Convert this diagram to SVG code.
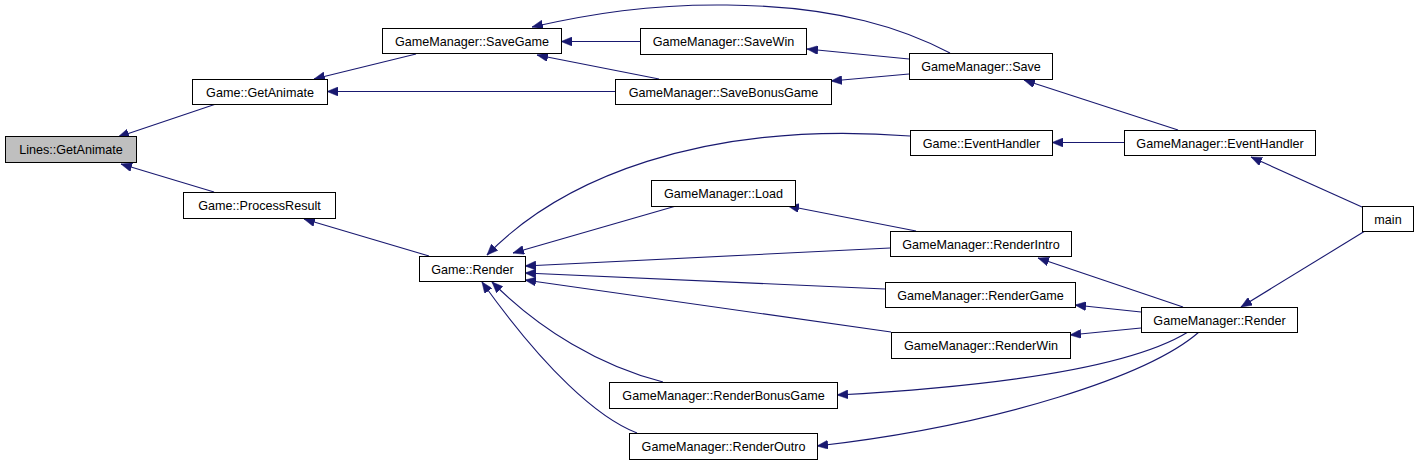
<svg xmlns="http://www.w3.org/2000/svg" width="1419" height="465" viewBox="0 0 1419 465">
<style>
.box{fill:#ffffff;stroke:#000000;stroke-width:1}
.hl{fill:#bfbfbf}
.lbl{font-family:"Liberation Sans",Arial,sans-serif;font-size:12.6px;fill:#000000;text-anchor:middle}
.e{fill:none;stroke:#191970;stroke-width:1.1;marker-end:url(#ah)}
</style>
<defs>
<marker id="ah" markerUnits="userSpaceOnUse" markerWidth="12" markerHeight="9" refX="11" refY="4.5" orient="auto">
<path d="M0,0 L11,4.5 L0,9 z" fill="#191970" stroke="#191970" stroke-width="0.5"/>
</marker>
</defs>
<rect width="1419" height="465" fill="#ffffff"/>
<g id="edges">
<path class="e" d="M216,104 L118,137"/>
<path class="e" d="M214,192 L121,164"/>
<path class="e" d="M416,54 L314,79"/>
<path class="e" d="M615,91.5 L327,91.5"/>
<path class="e" d="M429,256 L304,219"/>
<path class="e" d="M640,41.5 L561,41.5"/>
<path class="e" d="M659,79 L537,55"/>
<path class="e" d="M950,53 C906,30 840,6 727,5 C650,4 590,14 532,27"/>
<path class="e" d="M909,59 L807,49"/>
<path class="e" d="M909,74 L831,81"/>
<path class="e" d="M1178,130 L1024,80"/>
<path class="e" d="M1124,142.5 L1052,142.5"/>
<path class="e" d="M1362,207 L1251,157"/>
<path class="e" d="M1365,231 L1241,307"/>
<path class="e" d="M910,136 C700,120 560,180 487,255"/>
<path class="e" d="M676,206 L513,253"/>
<path class="e" d="M916,231 L788,206"/>
<path class="e" d="M890,248 L525,266"/>
<path class="e" d="M885,289 L525,273"/>
<path class="e" d="M891,332 L525,280"/>
<path class="e" d="M663,382 C600,366 540,330 492,282"/>
<path class="e" d="M637,433 C598,418 545,370 482,282"/>
<path class="e" d="M1183,307 L1038,258"/>
<path class="e" d="M1141,312 L1075,305"/>
<path class="e" d="M1141,328 L1070,335"/>
<path class="e" d="M1188,332 Q1110,380 837,395"/>
<path class="e" d="M1199,332 C1150,375 1000,425 817,446"/>
</g>
<g id="n1"><rect class="box hl" x="5.5" y="136.5" width="131" height="26"/><text class="lbl" x="71" y="154">Lines::GetAnimate</text></g>
<g id="n2"><rect class="box" x="192.5" y="79.5" width="135" height="25"/><text class="lbl" x="260" y="96.5">Game::GetAnimate</text></g>
<g id="n3"><rect class="box" x="183.5" y="192.5" width="152" height="26"/><text class="lbl" x="259.5" y="210">Game::ProcessResult</text></g>
<g id="n4"><rect class="box" x="419.5" y="256.5" width="106" height="25"/><text class="lbl" x="472.5" y="273.5">Game::Render</text></g>
<g id="n5"><rect class="box" x="382.5" y="28.5" width="179" height="25"/><text class="lbl" x="472" y="45.5">GameManager::SaveGame</text></g>
<g id="n6"><rect class="box" x="640.5" y="28.5" width="166" height="26"/><text class="lbl" x="723.5" y="46">GameManager::SaveWin</text></g>
<g id="n7"><rect class="box" x="615.5" y="79.5" width="216" height="25"/><text class="lbl" x="723.5" y="96.5">GameManager::SaveBonusGame</text></g>
<g id="n8"><rect class="box" x="909.5" y="53.5" width="143" height="26"/><text class="lbl" x="981" y="71">GameManager::Save</text></g>
<g id="n9"><rect class="box" x="910.5" y="130.5" width="142" height="25"/><text class="lbl" x="981.5" y="147.5">Game::EventHandler</text></g>
<g id="n10"><rect class="box" x="1124.5" y="130.5" width="191" height="25"/><text class="lbl" x="1220" y="147.5">GameManager::EventHandler</text></g>
<g id="n11"><rect class="box" x="1362.5" y="206.5" width="51" height="25"/><text class="lbl" x="1388" y="223.5">main</text></g>
<g id="n12"><rect class="box" x="651.5" y="180.5" width="144" height="26"/><text class="lbl" x="723.5" y="198">GameManager::Load</text></g>
<g id="n13"><rect class="box" x="890.5" y="231.5" width="181" height="25"/><text class="lbl" x="981" y="248.5">GameManager::RenderIntro</text></g>
<g id="n14"><rect class="box" x="885.5" y="282.5" width="190" height="25"/><text class="lbl" x="980.5" y="299.5">GameManager::RenderGame</text></g>
<g id="n15"><rect class="box" x="891.5" y="332.5" width="179" height="26"/><text class="lbl" x="981" y="350">GameManager::RenderWin</text></g>
<g id="n16"><rect class="box" x="1141.5" y="307.5" width="156" height="25"/><text class="lbl" x="1219.5" y="324.5">GameManager::Render</text></g>
<g id="n17"><rect class="box" x="609.5" y="382.5" width="228" height="26"/><text class="lbl" x="723.5" y="400">GameManager::RenderBonusGame</text></g>
<g id="n18"><rect class="box" x="629.5" y="433.5" width="188" height="26"/><text class="lbl" x="723.5" y="451">GameManager::RenderOutro</text></g>
</svg>
